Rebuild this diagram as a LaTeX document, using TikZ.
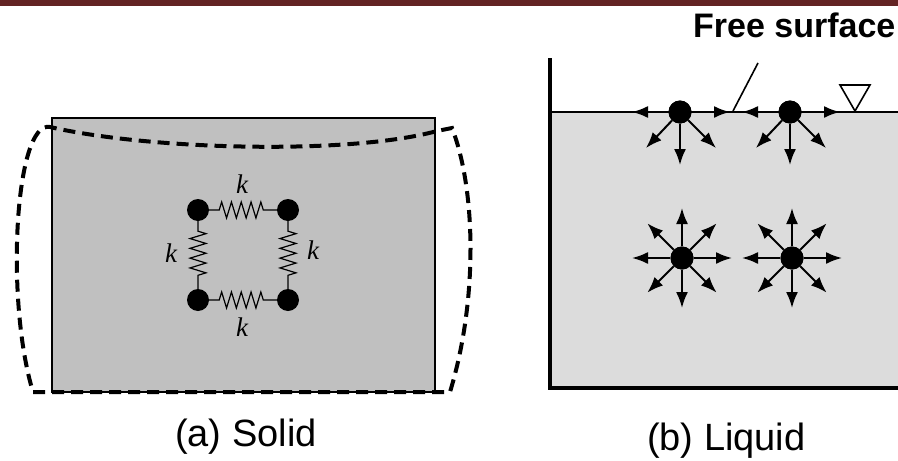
\documentclass[tikz,border=0pt]{standalone}
\usepackage{fontspec}
\setmainfont{Liberation Sans}
\newfontfamily\kfont{Liberation Serif}
\usetikzlibrary{arrows.meta,decorations.pathmorphing}
\definecolor{barred}{HTML}{632323}
\definecolor{solidgray}{HTML}{C0C0C0}
\definecolor{liqgray}{HTML}{DCDCDC}
\tikzset{
  mass/.style={circle,fill=black,draw=none,minimum size=22pt,inner sep=0pt},
  mol/.style={circle,fill=black,draw=none,minimum size=23pt,inner sep=0pt},
  spring/.style={line width=1.2pt,decorate,decoration={zigzag,segment length=9.8pt,amplitude=8pt,pre length=10pt,post length=10pt}},
  klabel/.style={font=\kfont\itshape\fontsize{27}{30}\selectfont,inner sep=0pt},
  deform/.style={line width=4pt,dash pattern=on 12pt off 7pt},
  arr/.style={line width=2pt,-{Latex[length=16pt,width=12pt]}},
  caption/.style={font=\fontsize{38}{44}\selectfont,anchor=base west,inner sep=0pt},
}
\begin{document}
\begin{tikzpicture}[x=1pt,y=-1pt]
\useasboundingbox (0,0) rectangle (898,461);
% top bar
\fill[barred] (0,0) rectangle (898,6);

% ---------- (a) Solid ----------
\draw[fill=solidgray,line width=1.6pt] (52,118) rectangle (435,392);
\draw[deform] (33,392) -- (450,392)
  .. controls (478,300) and (476,190) .. (452,128)
  -- (437,131)
  .. controls (350,155) and (150,150) .. (50,127)
  .. controls (15,120) and (5,300) .. (33,392);

\node[mass] (a1) at (198,210) {};
\node[mass] (a2) at (288,210) {};
\node[mass] (a3) at (198,300) {};
\node[mass] (a4) at (288,300) {};
\draw[spring] (a1.east) -- (a2.west);
\draw[spring] (a3.east) -- (a4.west);
\draw[spring] (a1.south) -- (a3.north);
\draw[spring] (a2.south) -- (a4.north);
\node[klabel] (kt) at (242,184) {k};
\node[klabel] (kl) at (171,253) {k};
\node[klabel] (kr) at (313,250) {k};
\node[klabel] (kb) at (242,327) {k};

\node[caption] (capa) at (175,446) {(a) Solid};

% ---------- (b) Liquid ----------
\fill[liqgray] (550,112) rectangle (898,388);
\draw[line width=1.6pt] (550,112) -- (898,112);
\draw[line width=3.2pt] (550,58) -- (550,388) -- (898,388);

\node[mol] (s1) at (680,112) {};
\node[mol] (s2) at (790,112) {};
\foreach \m in {s1,s2}{
  \draw[arr] (\m) -- ++(-48,0);
  \draw[arr] (\m) -- ++(50,0);
  \draw[arr] (\m) -- ++(0,53);
  \draw[arr] (\m) -- ++(-34,36);
  \draw[arr] (\m) -- ++(36,36);
}
\node[mol] (i1) at (682,258) {};
\node[mol] (i2) at (792,258) {};
\foreach \m in {i1,i2}{
  \foreach \a in {0,90,180,270}{
    \draw[arr] (\m) -- ++(\a:50);
  }
  \foreach \a in {45,135,225,315}{
    \draw[arr] (\m) -- ++(\a:49);
  }
}
% redraw molecules on top of arrow tails
\foreach \m in {s1,s2,i1,i2}{ \fill (\m) circle (11.5pt); }

% free surface label and triangle
\node[font=\bfseries\fontsize{34}{40}\selectfont,anchor=base west,inner sep=0pt] (fs) at (693,37) {Free surface};
\coordinate (fsp) at (733,111);
\draw[line width=1.6pt] (758,63) -- (fsp);
\draw[line width=1.6pt] (840,85) -- (870,85) -- (855,111) -- cycle;

\node[caption] (capb) at (647,450) {(b) Liquid};
\end{tikzpicture}
\end{document}
